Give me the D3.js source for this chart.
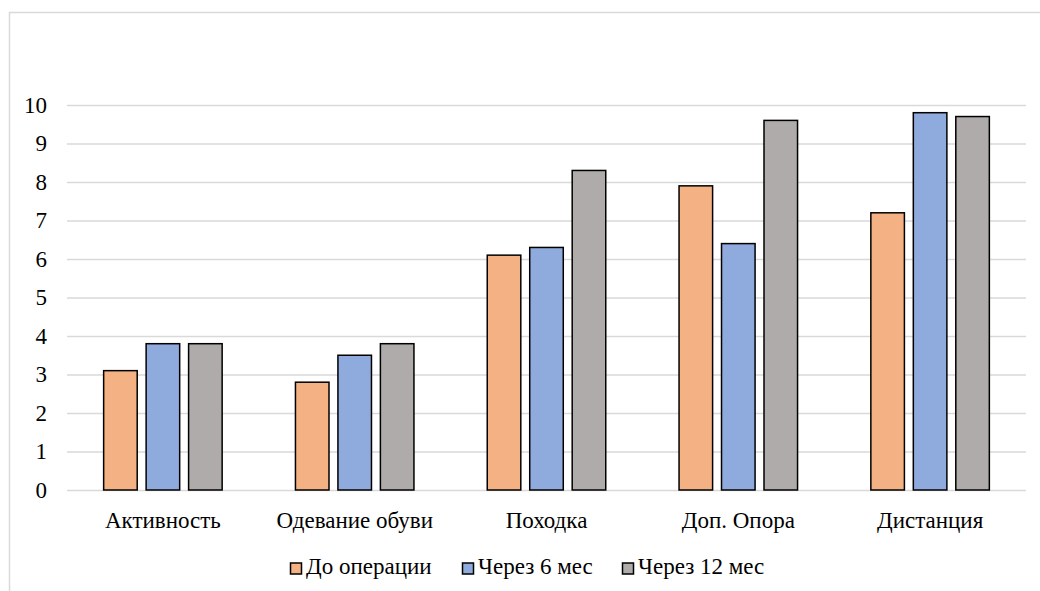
<!DOCTYPE html>
<html>
<head>
<meta charset="utf-8">
<script src="https://cdn.jsdelivr.net/npm/d3@7"></script>
<style>
  html, body { margin: 0; padding: 0; background: #ffffff; }
  svg { display: block; }
</style>
</head>
<body>
<svg id="chart" width="1040" height="591"></svg>
<script>
const categories = ["Активность", "Одевание обуви", "Походка", "Доп. Опора", "Дистанция"];
const seriesNames = ["До операции", "Через 6 мес", "Через 12 мес"];
const beforeOp = [3.1, 2.8, 6.1, 7.9, 7.2];
const after6 = [3.8, 3.5, 6.3, 6.4, 9.8];
const after12 = [3.8, 3.8, 8.3, 9.6, 9.7];
const yTicks = [0, 1, 2, 3, 4, 5, 6, 7, 8, 9, 10];
const colors = ["#F4B183", "#8FAADC", "#AFABAB"];

(function () {
const FONT = '"Liberation Serif", serif';
const FS = "23px";
const seriesValues = [beforeOp, after6, after12];
const data = categories.map((c, i) => ({
  cat: c,
  vals: seriesNames.map((s, j) => ({ s, j, v: seriesValues[j][i] }))
}));

const svg = d3.select("#chart");

// outer chart border
svg.append("rect")
  .attr("x", 9.5).attr("y", 12.5)
  .attr("width", 1100).attr("height", 700)
  .attr("fill", "none").attr("stroke", "#d9d9d9").attr("stroke-width", 1.5);

const pLeft = 67, pRight = 1026, pTop = 105, pBottom = 490;
const x = d3.scaleBand().domain(categories).range([pLeft, pRight]).paddingInner(0).paddingOuter(0);
const y = d3.scaleLinear().domain([0, 10]).range([pBottom, pTop]);
const bw = x.bandwidth();
const groupHalf = 59.25;
const xs = d3.scaleBand().domain(seriesNames)
  .range([bw / 2 - groupHalf, bw / 2 + groupHalf]).paddingInner(0.21).paddingOuter(0);

// gridlines + y labels
const yAxis = d3.axisLeft(y).tickValues(yTicks).tickSize(-(pRight - pLeft)).tickPadding(20).tickFormat(d3.format("d"));
const gy = svg.append("g").attr("transform", `translate(${pLeft},0)`).call(yAxis);
gy.attr("font-family", null).attr("font-size", null);
gy.select(".domain").remove();
gy.selectAll(".tick line").attr("stroke", "#d9d9d9").attr("stroke-width", 1.3);
gy.selectAll(".tick text")
  .style("font-family", FONT).style("font-size", FS)
  .attr("fill", "#000");

// bars
const groups = svg.append("g").selectAll("g").data(data).join("g")
  .attr("transform", d => `translate(${x(d.cat)},0)`);
groups.selectAll("rect").data(d => d.vals).join("rect")
  .attr("x", d => xs(d.s))
  .attr("width", xs.bandwidth())
  .attr("y", d => y(d.v))
  .attr("height", d => y(0) - y(d.v))
  .attr("fill", d => colors[d.j])
  .attr("stroke", "#000")
  .attr("stroke-width", 1.5);

// x axis labels
const xAxis = d3.axisBottom(x).tickSize(0).tickPadding(22);
const gx = svg.append("g").attr("transform", `translate(0,${pBottom})`).call(xAxis);
gx.attr("font-family", null).attr("font-size", null);
gx.select(".domain").remove();
gx.selectAll(".tick text")
  .style("font-family", FONT).style("font-size", FS)
  .attr("fill", "#000");

// legend
const legendX = [290, 462, 622];
const leg = svg.append("g").selectAll("g").data(seriesNames).join("g")
  .attr("transform", (d, i) => `translate(${legendX[i]},562.5)`);
leg.append("rect")
  .attr("x", 0.5).attr("y", 0.5).attr("width", 11).attr("height", 11)
  .attr("fill", (d, i) => colors[i]).attr("stroke", "#000").attr("stroke-width", 1.5);
leg.append("text")
  .attr("x", 16).attr("y", 11.5)
  .style("font-family", FONT).style("font-size", FS)
  .attr("fill", "#000")
  .text(d => d);
})();
</script>
</body>
</html>
